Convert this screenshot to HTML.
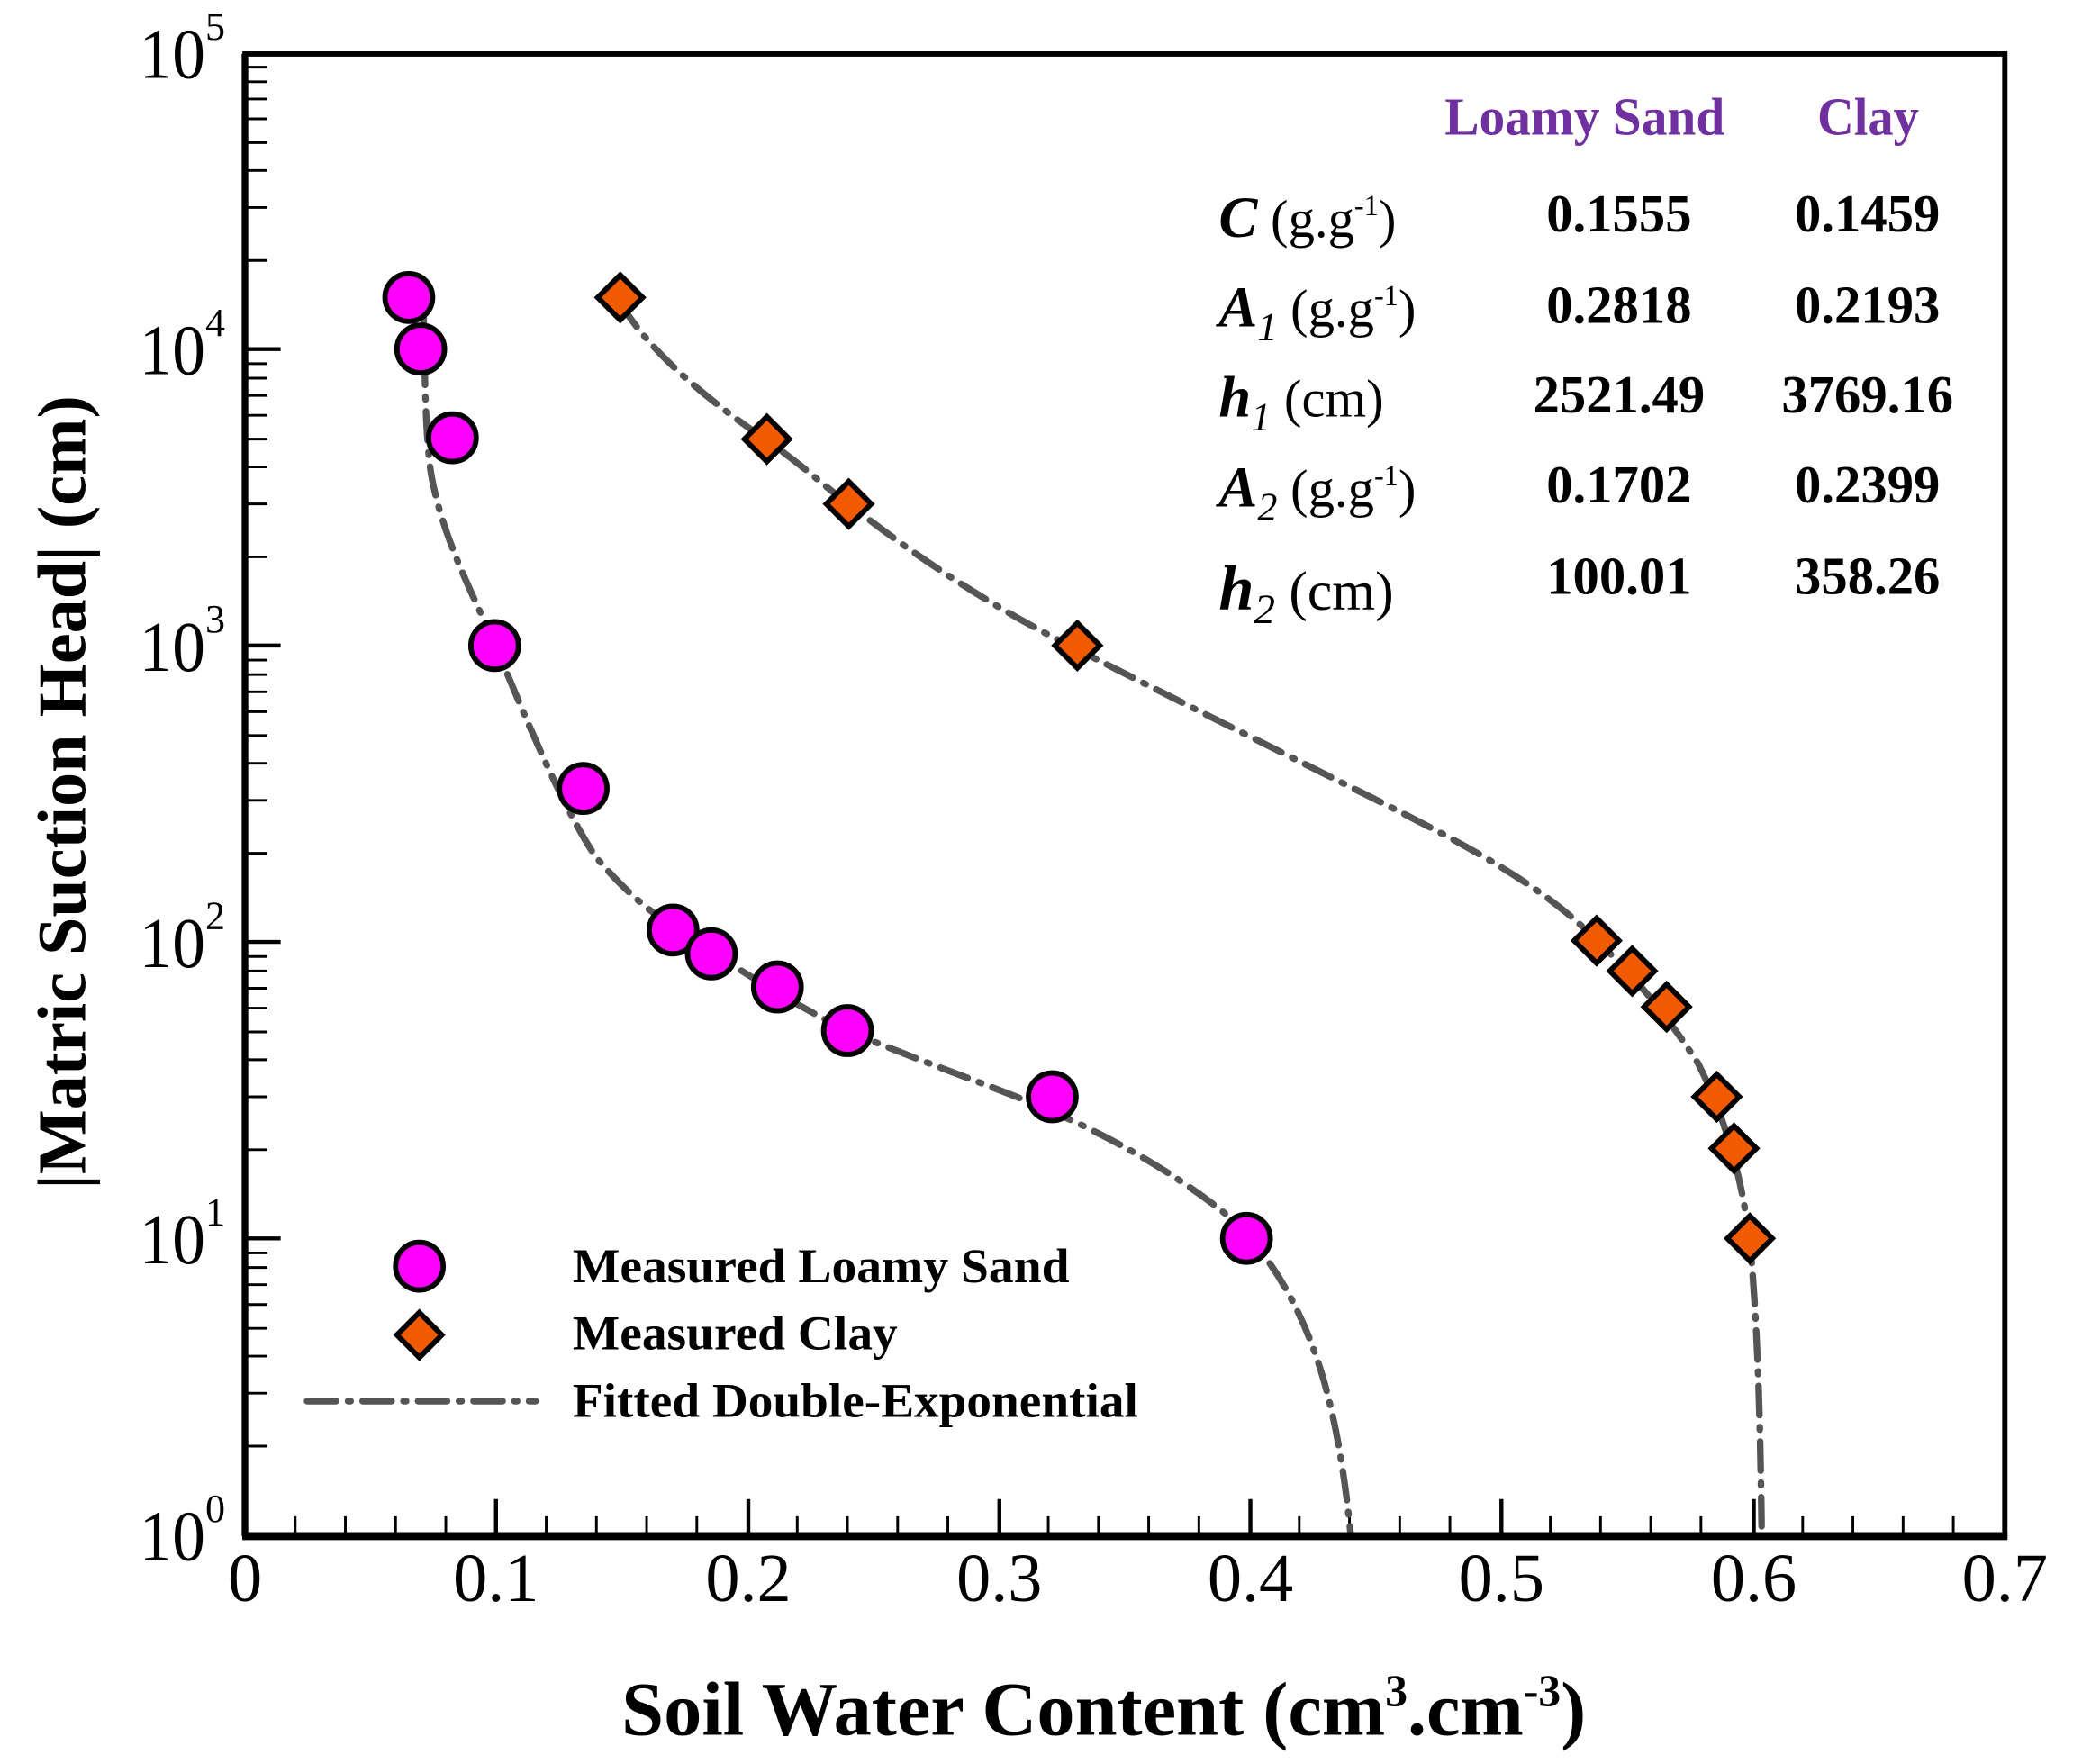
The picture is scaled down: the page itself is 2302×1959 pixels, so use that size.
<!DOCTYPE html>
<html><head><meta charset="utf-8"><style>html,body{margin:0;padding:0;background:#fff}svg{display:block}</style></head>
<body>
<svg xmlns="http://www.w3.org/2000/svg" width="2302" height="1959" viewBox="-0.4 1.2 1569 1333" preserveAspectRatio="none" font-family="Liberation Serif, serif">
<rect x="-5" y="0" width="1580" height="1340" fill="#fff"/>
<g stroke="#000" stroke-width="2">
<path d="
M185,1094 h17 M185,1054 h17 M185,1026 h17 M185,1005 h17 M185,987 h17 M185,972 h17 M185,959 h17 M185,948 h17
M185,870 h17 M185,830 h17 M185,802 h17 M185,781 h17 M185,763 h17 M185,748 h17 M185,735 h17 M185,724 h17
M185,646 h17 M185,606 h17 M185,578 h17 M185,557 h17 M185,539 h17 M185,524 h17 M185,511 h17 M185,500 h17
M185,422 h17 M185,382 h17 M185,354 h17 M185,333 h17 M185,315 h17 M185,300 h17 M185,287 h17 M185,276 h17
M185,198 h17 M185,158 h17 M185,130 h17 M185,109 h17 M185,91 h17 M185,76 h17 M185,63 h17 M185,52 h17"/>
<path stroke-width="3" d="M185,937 h27 M185,713 h27 M185,489 h27 M185,265 h27"/>
<path d="M223,1162 v-15 M261,1162 v-15 M299,1162 v-15 M337,1162 v-15 M413,1162 v-15 M451,1162 v-15 M489,1162 v-15 M527,1162 v-15 M603,1162 v-15 M641,1162 v-15 M679,1162 v-15 M717,1162 v-15 M793,1162 v-15 M831,1162 v-15 M869,1162 v-15 M907,1162 v-15 M983,1162 v-15 M1021,1162 v-15 M1059,1162 v-15 M1097,1162 v-15 M1173,1162 v-15 M1211,1162 v-15 M1249,1162 v-15 M1287,1162 v-15 M1364,1162 v-15 M1402,1162 v-15 M1440,1162 v-15 M1478,1162 v-15"/>
<path stroke-width="3" d="M375,1162 v-28 M566,1162 v-28 M756,1162 v-28 M946,1162 v-28 M1136,1162 v-28 M1327,1162 v-28"/>
</g>
<g fill="none" stroke="#555" stroke-width="5" stroke-linecap="round" stroke-dasharray="22 9 2 9">
<path d="M320,228 C321,270 321,330 326,360 C335,410 360,455 375,490 C400,550 425,610 450,648 C470,672 490,690 515,705 C560,735 600,760 641,780 C700,805 760,825 800,843 C850,865 900,895 935,925 C970,960 995,1010 1008,1070 C1015,1100 1020,1140 1022,1162"/>
<path d="M469,230 C490,265 530,300 580,334 C610,355 625,370 642,382 C690,420 750,460 815,492 C880,525 960,565 1040,605 C1110,640 1170,672 1208,712 C1240,742 1262,770 1285,805 C1305,845 1318,890 1324,940 C1330,1000 1332,1080 1333,1162"/>
</g>
<g fill="#ff00ff" stroke="#000" stroke-width="4">
<circle cx="309" cy="226" r="18"/><circle cx="318" cy="265" r="18"/><circle cx="342" cy="332" r="18"/><circle cx="374" cy="489" r="18"/><circle cx="441" cy="597" r="18"/><circle cx="509" cy="704" r="18"/><circle cx="538" cy="722" r="18"/><circle cx="588" cy="747" r="18"/><circle cx="641" cy="780" r="18"/><circle cx="796" cy="830" r="18"/><circle cx="943" cy="937" r="18"/>
<circle cx="317" cy="958" r="18"/>
</g>
<g fill="#f25a00" stroke="#000" stroke-width="4">
<path d="M469,209 l17,17 l-17,17 l-17,-17z"/><path d="M580,316 l17,17 l-17,17 l-17,-17z"/><path d="M642,365 l17,17 l-17,17 l-17,-17z"/><path d="M815,472 l17,17 l-17,17 l-17,-17z"/><path d="M1208,695 l17,17 l-17,17 l-17,-17z"/><path d="M1235,718 l17,17 l-17,17 l-17,-17z"/><path d="M1261,745 l17,17 l-17,17 l-17,-17z"/><path d="M1299,813 l17,17 l-17,17 l-17,-17z"/><path d="M1312,852 l17,17 l-17,17 l-17,-17z"/><path d="M1324,920 l17,17 l-17,17 l-17,-17z"/>
<path d="M317,993 l17,17 l-17,17 l-17,-17z"/>
</g>
<path d="M232,1060 H405" stroke="#555" stroke-width="5" fill="none" stroke-dasharray="22 9 2 9" stroke-linecap="round"/>
<rect x="185" y="42" width="1332" height="1120" fill="none" stroke="#000" stroke-width="4"/>
<line x1="185" y1="42" x2="185" y2="1162" stroke="#000" stroke-width="5"/>
<line x1="183" y1="1162" x2="1519" y2="1162" stroke="#000" stroke-width="6"/>
<g font-size="54" fill="#000">
<text x="105" y="60" textLength="50" lengthAdjust="spacingAndGlyphs">10</text><text x="155" y="31" font-size="30">5</text>
<text x="105" y="284" textLength="50" lengthAdjust="spacingAndGlyphs">10</text><text x="155" y="255" font-size="30">4</text>
<text x="105" y="508" textLength="50" lengthAdjust="spacingAndGlyphs">10</text><text x="155" y="479" font-size="30">3</text>
<text x="105" y="732" textLength="50" lengthAdjust="spacingAndGlyphs">10</text><text x="155" y="703" font-size="30">2</text>
<text x="105" y="956" textLength="50" lengthAdjust="spacingAndGlyphs">10</text><text x="155" y="927" font-size="30">1</text>
<text x="105" y="1180" textLength="50" lengthAdjust="spacingAndGlyphs">10</text><text x="155" y="1151" font-size="30">0</text>
</g>
<g font-size="52" fill="#000" text-anchor="middle">
<text x="185" y="1211">0</text><text x="375" y="1211">0.1</text><text x="566" y="1211">0.2</text><text x="756" y="1211">0.3</text><text x="946" y="1211">0.4</text><text x="1136" y="1211">0.5</text><text x="1327" y="1211">0.6</text><text x="1517" y="1211">0.7</text>
</g>
<text x="470" y="1312" font-size="58" font-weight="bold" textLength="730" lengthAdjust="spacingAndGlyphs">Soil Water Content (cm<tspan font-size="34" dy="-22">3</tspan><tspan dy="22">.cm</tspan><tspan font-size="34" dy="-22">-3</tspan><tspan dy="22">)</tspan></text>
<text transform="translate(64,900) rotate(-90)" font-size="52" font-weight="bold" textLength="600" lengthAdjust="spacingAndGlyphs">|Matric Suction Head| (cm)</text>
<g font-size="37" font-weight="bold">
<text x="433" y="970" textLength="376" lengthAdjust="spacingAndGlyphs">Measured Loamy Sand</text>
<text x="433" y="1021" textLength="246" lengthAdjust="spacingAndGlyphs">Measured Clay</text>
<text x="433" y="1072" textLength="428" lengthAdjust="spacingAndGlyphs">Fitted Double-Exponential</text>
</g>
<g font-size="40" font-weight="bold" fill="#7030a0">
<text x="1093" y="103" textLength="212" lengthAdjust="spacingAndGlyphs">Loamy Sand</text>
<text x="1375" y="103" textLength="77" lengthAdjust="spacingAndGlyphs">Clay</text>
</g>
<g font-size="40" font-weight="bold" text-anchor="middle">
<text x="1225" y="176">0.1555</text><text x="1413" y="176">0.1459</text>
<text x="1225" y="245">0.2818</text><text x="1413" y="245">0.2193</text>
<text x="1225" y="313">2521.49</text><text x="1413" y="313">3769.16</text>
<text x="1225" y="381">0.1702</text><text x="1413" y="381">0.2399</text>
<text x="1225" y="450">100.01</text><text x="1413" y="450">358.26</text>
</g>
<g font-size="40">
<text x="922" y="180"><tspan font-weight="bold" font-style="italic" font-size="44">C</tspan> (g.g<tspan font-size="22" dy="-16">-1</tspan><tspan dy="16">)</tspan></text>
<text x="922" y="248"><tspan font-weight="bold" font-style="italic" font-size="44">A</tspan><tspan font-style="italic" font-size="30" dy="10">1</tspan><tspan dy="-10"> (g.g</tspan><tspan font-size="22" dy="-16">-1</tspan><tspan dy="16">)</tspan></text>
<text x="922" y="316"><tspan font-weight="bold" font-style="italic" font-size="44">h</tspan><tspan font-style="italic" font-size="30" dy="10">1</tspan><tspan dy="-10"> (cm)</tspan></text>
<text x="922" y="384"><tspan font-weight="bold" font-style="italic" font-size="44">A</tspan><tspan font-style="italic" font-size="30" dy="10">2</tspan><tspan dy="-10"> (g.g</tspan><tspan font-size="22" dy="-16">-1</tspan><tspan dy="16">)</tspan></text>
<text x="922" y="462"><tspan font-weight="bold" font-style="italic" font-size="48">h</tspan><tspan font-style="italic" font-size="32" dy="10">2</tspan><tspan dy="-10" font-size="42"> (cm)</tspan></text>
</g>
</svg>
</body></html>
